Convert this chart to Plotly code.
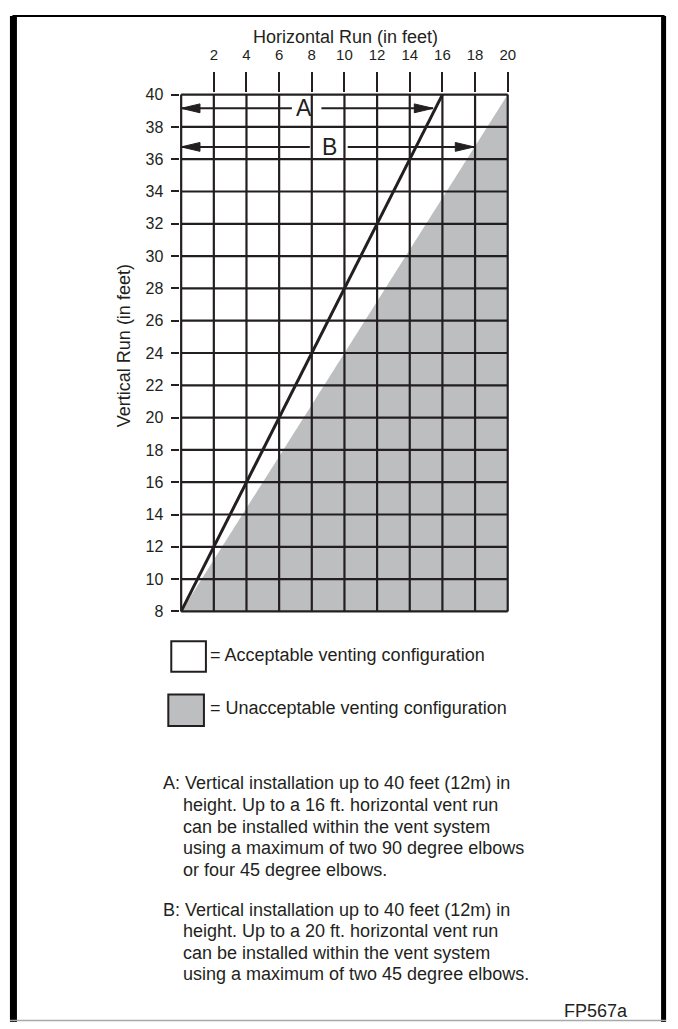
import plotly.graph_objects as go

# The page puts the figure 8 px in from the window's top-left corner,
# so the figure is 16 px smaller than the window and every position
# below is (window pixel - 8).
W, H = 670, 1021
OFF = 8
FONT = "Liberation Sans, Arial, Helvetica, sans-serif"
INK = "#231f20"
GRAY = "#bdbec0"

# ---------------- data ----------------
x_ticks = [2, 4, 6, 8, 10, 12, 14, 16, 18, 20]
x_ticktext = ["2", "4", "6", "8", "10", "12", "14", "16", "18", "20"]
y_ticks = [8, 10, 12, 14, 16, 18, 20, 22, 24, 26, 28, 30, 32, 34, 36, 38, 40]
x_range = [0, 20]
y_range = [8, 40]

# acceptable limit line (A)
limit_x = [0, 16]
limit_y = [8, 40]

# unacceptable region boundary
unacc_x = [0, 20, 20, 0]
unacc_y = [8, 40, 8, 8]

# dimension arrows
arrow_names = ["A", "B"]
arrow_y = [39.15, 36.76]
arrow_start_x = [0.0, 0.0]
arrow_end_x = [15.43, 17.94]
gap_left_x = [6.78, 7.88]
gap_right_x = [8.59, 10.2]
label_x = [7.55, 9.07]

legend_labels = ["= Acceptable venting configuration",
                 "= Unacceptable venting configuration"]

note_A = ["A: Vertical installation up to 40 feet (12m) in",
          "height. Up to a 16 ft. horizontal vent run",
          "can be installed within the vent system",
          "using a maximum of two 90 degree elbows",
          "or four 45 degree elbows."]
note_B = ["B: Vertical installation up to 40 feet (12m) in",
          "height. Up to a 20 ft. horizontal vent run",
          "can be installed within the vent system",
          "using a maximum of two 45 degree elbows."]

# ---------------- layout helpers (window pixels -> paper) ----------------
def px(x):
    return (x - OFF) / W

def py(y):
    return 1 - (y - OFF) / H

# grid placement (window pixels)
GX0, GX1 = 183.0, 513.0
GY_TOP, GY_BOT = 88.7, 612.7
pad_ft = 0.1
sx = (GX1 - GX0) / (x_range[1] - x_range[0])
sy = (GY_BOT - GY_TOP) / (y_range[1] - y_range[0])

fig = go.Figure()

# unacceptable region
fig.add_trace(go.Scatter(x=unacc_x, y=unacc_y, mode="lines", fill="toself",
                         fillcolor=GRAY, line=dict(width=0, color=GRAY),
                         hoverinfo="skip"))

# grid lines (drawn over the fill)
gx, gy = [], []
for xv in [x_range[0]] + x_ticks:
    gx += [xv, xv, None]
    gy += [y_range[0], y_range[1], None]
for yv in y_ticks:
    gx += [x_range[0], x_range[1], None]
    gy += [yv, yv, None]
fig.add_trace(go.Scatter(x=gx, y=gy, mode="lines",
                         line=dict(color=INK, width=2.2), hoverinfo="skip"))

# limit line
fig.add_trace(go.Scatter(x=limit_x, y=limit_y, mode="lines",
                         line=dict(color=INK, width=3), hoverinfo="skip"))

# arrows: shafts
ax_, ay_ = [], []
for i in range(len(arrow_names)):
    ax_ += [arrow_start_x[i], gap_left_x[i], None, gap_right_x[i], arrow_end_x[i], None]
    ay_ += [arrow_y[i], arrow_y[i], None, arrow_y[i], arrow_y[i], None]
fig.add_trace(go.Scatter(x=ax_, y=ay_, mode="lines",
                         line=dict(color=INK, width=2), hoverinfo="skip"))

# arrows: heads (triangles derived from arrow ends)
HEAD_LEN = 19 / sx
HEAD_HALF = 4.5 / sy
hx, hy = [], []
for i in range(len(arrow_names)):
    t = arrow_start_x[i]
    hx += [t, t + HEAD_LEN, t + HEAD_LEN, t, None]
    hy += [arrow_y[i], arrow_y[i] + HEAD_HALF, arrow_y[i] - HEAD_HALF, arrow_y[i], None]
    t = arrow_end_x[i]
    hx += [t, t - HEAD_LEN, t - HEAD_LEN, t, None]
    hy += [arrow_y[i], arrow_y[i] + HEAD_HALF, arrow_y[i] - HEAD_HALF, arrow_y[i], None]
fig.add_trace(go.Scatter(x=hx, y=hy, mode="lines", fill="toself",
                         fillcolor=INK, line=dict(color=INK, width=1),
                         hoverinfo="skip"))

# arrow labels
for i, name in enumerate(arrow_names):
    fig.add_annotation(x=label_x[i], y=arrow_y[i], xref="x", yref="y",
                       text=name, showarrow=False, xanchor="center", yanchor="middle",
                       font=dict(family=FONT, size=23, color=INK))

fig.update_xaxes(range=[x_range[0] - pad_ft, x_range[1] + pad_ft],
                 domain=[px(GX0 - pad_ft * sx), px(GX1 + pad_ft * sx)],
                 side="top", tickvals=x_ticks, ticktext=x_ticktext,
                 ticks="outside", ticklen=20, tickwidth=2, tickcolor=INK,
                 showgrid=False, zeroline=False, showline=False,
                 tickfont=dict(family=FONT, size=15, color=INK),
                 ticklabelstandoff=6, fixedrange=True)
fig.update_yaxes(range=[y_range[0] - pad_ft, y_range[1] + pad_ft],
                 domain=[py(GY_BOT + pad_ft * sy), py(GY_TOP - pad_ft * sy)],
                 tickvals=y_ticks, ticks="outside", ticklen=8, tickwidth=2,
                 tickcolor=INK, showgrid=False, zeroline=False, showline=False,
                 tickfont=dict(family=FONT, size=16, color=INK),
                 ticklabelstandoff=4, fixedrange=True)

shapes = []
# outer frame: heavy black on left / top / right, thin gray at bottom
shapes.append(dict(type="path", xref="paper", yref="paper",
                   path=(f"M {px(13.5)},{py(H + OFF)} L {px(13.5)},{py(9)} "
                         f"L {px(670.5)},{py(9)} L {px(670.5)},{py(H + OFF)}"),
                   line=dict(color="black", width=2)))
shapes.append(dict(type="line", xref="paper", yref="paper",
                   x0=px(13.5), x1=px(13.5), y0=py(9), y1=py(H + OFF),
                   line=dict(color="black", width=7)))
shapes.append(dict(type="line", xref="paper", yref="paper",
                   x0=px(670.5), x1=px(670.5), y0=py(9), y1=py(H + OFF),
                   line=dict(color="black", width=5)))
shapes.append(dict(type="line", xref="paper", yref="paper",
                   x0=px(10), x1=px(673), y0=py(1027.5), y1=py(1027.5),
                   line=dict(color="#a7a9ac", width=1.5)))
# legend swatches
shapes.append(dict(type="rect", xref="paper", yref="paper",
                   x0=px(173), x1=px(208), y0=py(674), y1=py(643),
                   fillcolor="white", line=dict(color=INK, width=2)))
shapes.append(dict(type="rect", xref="paper", yref="paper",
                   x0=px(170), x1=px(206), y0=py(729), y1=py(697),
                   fillcolor=GRAY, line=dict(color=INK, width=2)))

annotations = []
# axis titles
annotations.append(dict(x=px(349), y=py(30), text="Horizontal Run (in feet)",
                        xanchor="center", yanchor="middle",
                        font=dict(family=FONT, size=18, color=INK)))
annotations.append(dict(x=px(126), y=py(343), text="Vertical Run (in feet)", textangle=-90,
                        xanchor="center", yanchor="middle",
                        font=dict(family=FONT, size=18, color=INK)))
# legend text
for lab, yc in zip(legend_labels, [657, 711]):
    annotations.append(dict(x=px(210), y=py(yc), text=lab, xanchor="left", yanchor="middle",
                            font=dict(family=FONT, size=18, color=INK)))
# notes
LINE = 21.9
for block, y0 in ((note_A, 787), (note_B, 915)):
    for j, line in enumerate(block):
        annotations.append(dict(x=px(163 if j == 0 else 183), y=py(y0 + j * LINE), text=line,
                                xanchor="left", yanchor="middle",
                                font=dict(family=FONT, size=18, color=INK)))
annotations.append(dict(x=px(637), y=py(1018), text="FP567a", xanchor="right", yanchor="middle",
                        font=dict(family=FONT, size=18, color=INK)))

for a in annotations:
    fig.add_annotation(xref="paper", yref="paper", showarrow=False, **a)

fig.update_layout(width=W, height=H, margin=dict(l=0, r=0, t=0, b=0),
                  paper_bgcolor="white", plot_bgcolor="rgba(0,0,0,0)",
                  showlegend=False, shapes=shapes)

fig.write_html("out.html")
